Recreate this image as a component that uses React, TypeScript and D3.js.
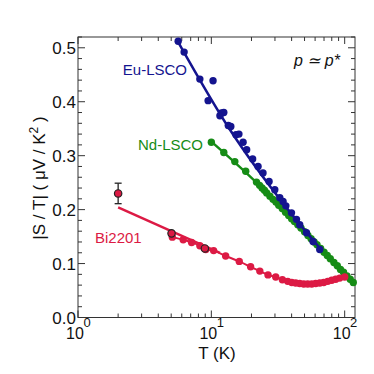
import * as d3 from 'd3';

// Eu-LSCO
const tempEu = [5.64, 6.25, 8.2, 10.3, 9.46, 11.9, 12.4, 11.6, 13.4, 14.0, 15.3, 16.1, 17.3, 18.4, 20.4, 22.4, 24.4, 27.1, 29.9, 32.6, 34.5, 36.2, 39.9, 43.5, 46.0, 51.7, 57.9, 65.0];
const seebeckEu = [0.512, 0.492, 0.442, 0.439, 0.402, 0.379, 0.38, 0.374, 0.356, 0.354, 0.339, 0.34, 0.325, 0.311, 0.294, 0.28, 0.268, 0.252, 0.237, 0.222, 0.215, 0.207, 0.194, 0.182, 0.172, 0.157, 0.141, 0.126];
const fitEuT = [5.6, 13.8, 37.6, 67];
const fitEuV = [0.512, 0.348, 0.2, 0.125];

// Nd-LSCO
const tempNd = [10.0, 12.4, 15.0, 18.1, 21.8, 23, 24, 25, 26, 27.5, 29, 30.5, 32, 34, 36, 38, 40, 42, 44.5, 47, 50, 53, 56, 59, 62, 66, 70, 74, 78, 83, 88, 93, 98, 104, 110, 116];
const seebeckNd = [0.325, 0.306, 0.289, 0.271, 0.251, 0.245, 0.24, 0.236, 0.231, 0.225, 0.219, 0.214, 0.208, 0.202, 0.195, 0.189, 0.183, 0.178, 0.172, 0.166, 0.159, 0.152, 0.146, 0.14, 0.135, 0.128, 0.121, 0.115, 0.109, 0.102, 0.096, 0.089, 0.084, 0.077, 0.071, 0.065];
const fitNdT = [10, 21.8, 50, 120];
const fitNdV = [0.326, 0.25, 0.158, 0.06];

// Bi2201
const tempBi = [5.1, 6.15, 7.11, 8.2, 9.09, 10.4, 12.8, 16.2, 19.7, 23.1, 26.6, 30.4, 34.1, 37.4, 40.1, 42.9, 46.0, 49.3, 52.8, 56.6, 60.6, 65.0, 69.6, 74.6, 79.9, 85.6, 91.7, 100];
const seebeckBi = [0.149, 0.144, 0.139, 0.133, 0.126, 0.124, 0.114, 0.104, 0.094, 0.086, 0.079, 0.075, 0.07, 0.067, 0.065, 0.064, 0.063, 0.062, 0.062, 0.062, 0.063, 0.064, 0.065, 0.067, 0.069, 0.071, 0.073, 0.075];
const tempBiOpen = [2, 5.03, 8.94];
const seebeckBiOpen = [0.23, 0.156, 0.128];
const errBiOpen = [0.019, 0, 0];
const fitBiT = [2, 11.6];
const fitBiV = [0.204, 0.12];

const yTicks = [0, 0.1, 0.2, 0.3, 0.4, 0.5];
const xDecades = [0, 1, 2];

const W = 374;
const H = 374;
const left = 78;
const right = 355;
const top = 37;
const bottom = 317.5;

const BLUE = '#14148f';
const GREEN = '#168c16';
const RED = '#dc1a44';
const AXIS = '#333';

export default function App() {
  const x = d3.scaleLog().domain([1, 119.5]).range([left, right]);
  const y = d3.scaleLinear().domain([0, 0.52]).range([bottom, top]);

  const line = d3
    .line<[number, number]>()
    .x((d) => x(d[0]))
    .y((d) => y(d[1]))
    .curve(d3.curveMonotoneX);
  const zip = (a: number[], b: number[]) => a.map((t, i) => [t, b[i]] as [number, number]);

  const minorX: number[] = [];
  for (let e = 0; e < 3; e++) {
    for (let k = 2; k <= 9; k++) {
      const v = k * Math.pow(10, e);
      if (v <= 119.5) minorX.push(v);
    }
  }
  const minorY = d3.range(0, 0.521, 0.02).filter((v) => Math.abs(v * 10 - Math.round(v * 10)) > 1e-6);

  const r = 3.7;
  const font = 'Arial, "Liberation Sans", sans-serif';

  return (
    <svg width={W} height={H} style={{ position: 'absolute', left: 0, top: 0 }} fontFamily={font}>
      <rect width={W} height={H} fill="#fff" />
      {/* frame */}
      <rect x={left} y={top} width={right - left} height={bottom - top} fill="none" stroke={AXIS} strokeWidth={1} />
      {/* y ticks */}
      {yTicks.map((t) => (
        <g key={'yt' + t}>
          <line x1={left} x2={left + 7} y1={y(t)} y2={y(t)} stroke={AXIS} />
          <line x1={right} x2={right - 7} y1={y(t)} y2={y(t)} stroke={AXIS} />
          <text x={left - 2} y={y(t)} dy="0.36em" textAnchor="end" fontSize={17} fill="#111">
            {t.toFixed(1)}
          </text>
        </g>
      ))}
      {minorY.map((t) => (
        <g key={'ym' + t}>
          <line x1={left} x2={left + 4} y1={y(t)} y2={y(t)} stroke={AXIS} />
          <line x1={right} x2={right - 4} y1={y(t)} y2={y(t)} stroke={AXIS} />
        </g>
      ))}
      {/* x ticks */}
      {xDecades.map((e) => {
        const px = x(Math.pow(10, e));
        return (
          <g key={'xt' + e}>
            <line x1={px} x2={px} y1={bottom} y2={bottom - 7} stroke={AXIS} />
            <line x1={px} x2={px} y1={top} y2={top + 7} stroke={AXIS} />
            <text x={px - 3} y={339} textAnchor="middle" fontSize={16} fill="#111">
              10
            </text>
            <text x={px + 9} y={327} textAnchor="middle" fontSize={13} fill="#111">
              {e}
            </text>
          </g>
        );
      })}
      {minorX.map((v) => (
        <g key={'xm' + v}>
          <line x1={x(v)} x2={x(v)} y1={bottom} y2={bottom - 4} stroke={AXIS} />
          <line x1={x(v)} x2={x(v)} y1={top} y2={top + 4} stroke={AXIS} />
        </g>
      ))}
      {/* axis titles */}
      <text x={217} y={359} textAnchor="middle" fontSize={17} fill="#111">
        T (K)
      </text>
      <text transform="translate(45,178) rotate(-90)" textAnchor="middle" fontSize={17} fill="#111">
        |S / T| ( μV / K
        <tspan dy={-7} fontSize={12}>2</tspan>
        <tspan dy={7}> )</tspan>
      </text>

      {/* Nd-LSCO */}
      {zip(tempNd, seebeckNd).map((d, i) => (
        <circle key={'nd' + i} cx={x(d[0])} cy={y(d[1])} r={r} fill={GREEN} />
      ))}
      <path d={line(zip(fitNdT, fitNdV)) || ''} fill="none" stroke={GREEN} strokeWidth={2.5} />

      {/* Eu-LSCO */}
      {zip(tempEu, seebeckEu).map((d, i) => (
        <circle key={'eu' + i} cx={x(d[0])} cy={y(d[1])} r={r} fill={BLUE} />
      ))}
      <path d={line(zip(fitEuT, fitEuV)) || ''} fill="none" stroke={BLUE} strokeWidth={2.5} />

      {/* Bi2201 */}
      <path d={line(zip(tempBi, seebeckBi)) || ''} fill="none" stroke={RED} strokeWidth={2} />
      {zip(tempBi, seebeckBi).map((d, i) => (
        <circle key={'bi' + i} cx={x(d[0])} cy={y(d[1])} r={r} fill={RED} />
      ))}
      <path d={line(zip(fitBiT, fitBiV)) || ''} fill="none" stroke={RED} strokeWidth={2.5} />
      {tempBiOpen.map((t, i) => {
        const v = seebeckBiOpen[i];
        const e = errBiOpen[i];
        return (
          <g key={'bo' + i}>
            {e > 0 && (
              <g stroke="#222" strokeWidth={1.3}>
                <line x1={x(t)} x2={x(t)} y1={y(v - e)} y2={y(v + e)} />
                <line x1={x(t) - 3.5} x2={x(t) + 3.5} y1={y(v - e)} y2={y(v - e)} />
                <line x1={x(t) - 3.5} x2={x(t) + 3.5} y1={y(v + e)} y2={y(v + e)} />
              </g>
            )}
            <circle cx={x(t)} cy={y(v)} r={r} fill={RED} stroke="#222" strokeWidth={1.2} />
          </g>
        );
      })}

      {/* labels */}
      <text x={187} y={75} textAnchor="end" fontSize={15} fill={BLUE}>
        Eu-LSCO
      </text>
      <text x={203} y={150} textAnchor="end" fontSize={15} fill={GREEN}>
        Nd-LSCO
      </text>
      <text x={95} y={243} fontSize={15} fill={RED}>
        Bi2201
      </text>
      <text x={340} y={66} textAnchor="end" fontSize={16} fontStyle="italic" fill="#111">
        p ≃ p*
      </text>
    </svg>
  );
}
